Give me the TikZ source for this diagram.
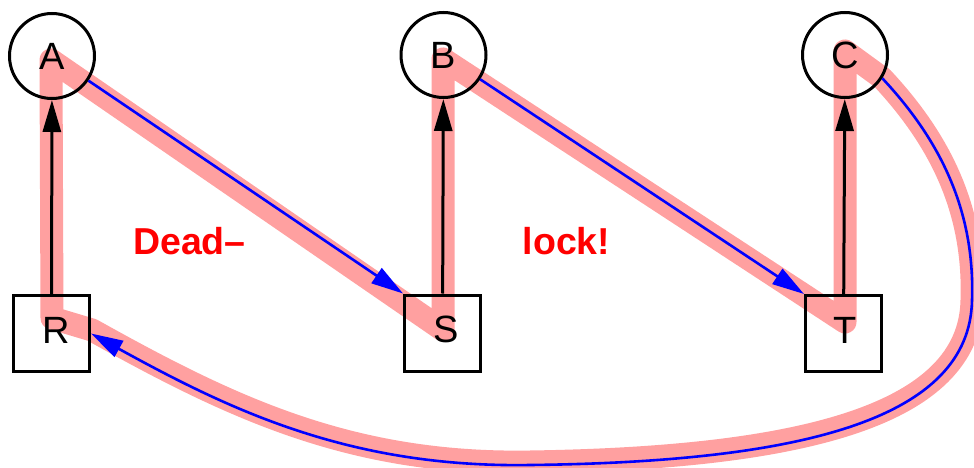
\documentclass[tikz,border=0pt]{standalone}
\usepackage{fontspec}
\setmainfont{Liberation Sans}
\usetikzlibrary{arrows.meta}
\definecolor{pinkband}{RGB}{255,160,160}
\tikzset{
  res/.style={draw=black,line width=3pt,circle,minimum size=85pt,inner sep=0pt,font=\fontsize{38}{40}\selectfont},
  proc/.style={draw=black,line width=3pt,rectangle,minimum size=76pt,inner sep=0pt,font=\fontsize{38}{40}\selectfont},
  holds/.style={draw=black,line width=3pt,-{Triangle[length=32pt,width=18pt]}},
  wants/.style={draw=blue,line width=2.6pt,-{Triangle[length=32pt,width=18pt]}},
  band/.style={draw=pinkband,line width=23pt,line join=round,line cap=round},
  msg/.style={text=red,font=\fontsize{37.5}{40}\selectfont\bfseries}
}
\begin{document}
\begin{tikzpicture}[x=1pt,y=-1pt]
\useasboundingbox (0,0) rectangle (974,468);
% pink cycle
\coordinate (vR) at (52,318);
\coordinate (vA) at (51,60);
\coordinate (vS) at (443,330);
\coordinate (vB) at (443,59);
\coordinate (vT) at (845,322);
\coordinate (vC) at (845,51);
\coordinate (c1) at (882,78);
\coordinate (c2) at (972,300);
\coordinate (c3) at (530,462);
\coordinate (c4) at (92,330);
\draw[band] (vR) -- (vA) -- (vS) -- (vB) -- (vT) -- (vC) -- (c1)
  .. controls (940,140) and (975,210) .. (c2)
  .. controls (970,416) and (800,458) .. (c3)
  .. controls (350,465) and (230,407) .. (c4) -- cycle;
% nodes
\node[res] (A) at (52,56) {A};
\node[res] (B) at (443.5,55) {B};
\node[res] (C) at (845,55) {C};
\node[proc] (R) at (51.5,333.5) {\hspace*{9pt}\raisebox{6pt}{R}};
\node[proc] (S) at (442.5,333) {\hspace*{7pt}\raisebox{7pt}{S}};
\node[proc] (T) at (843.5,333.5) {\hspace*{4pt}\raisebox{7pt}{T}};
% holds
\draw[holds] (R) -- (A);
\draw[holds] (S) -- (B);
\draw[holds] (T) -- (C);
% wants
\draw[wants] (A) -- (S.north west);
\draw[wants] (B) -- (T.north west);
\draw[wants] (C.-32) .. controls (940,140) and (975,210) .. (972,300)
  .. controls (970,420) and (800,462) .. (530,465)
  .. controls (350,468) and (230,410) .. (R.east);
% text
\node[msg] (dead) at (189.5,241.5) {Dead–};
\node[msg] (lock) at (566.5,241.5) {lock!};
\end{tikzpicture}
\end{document}
